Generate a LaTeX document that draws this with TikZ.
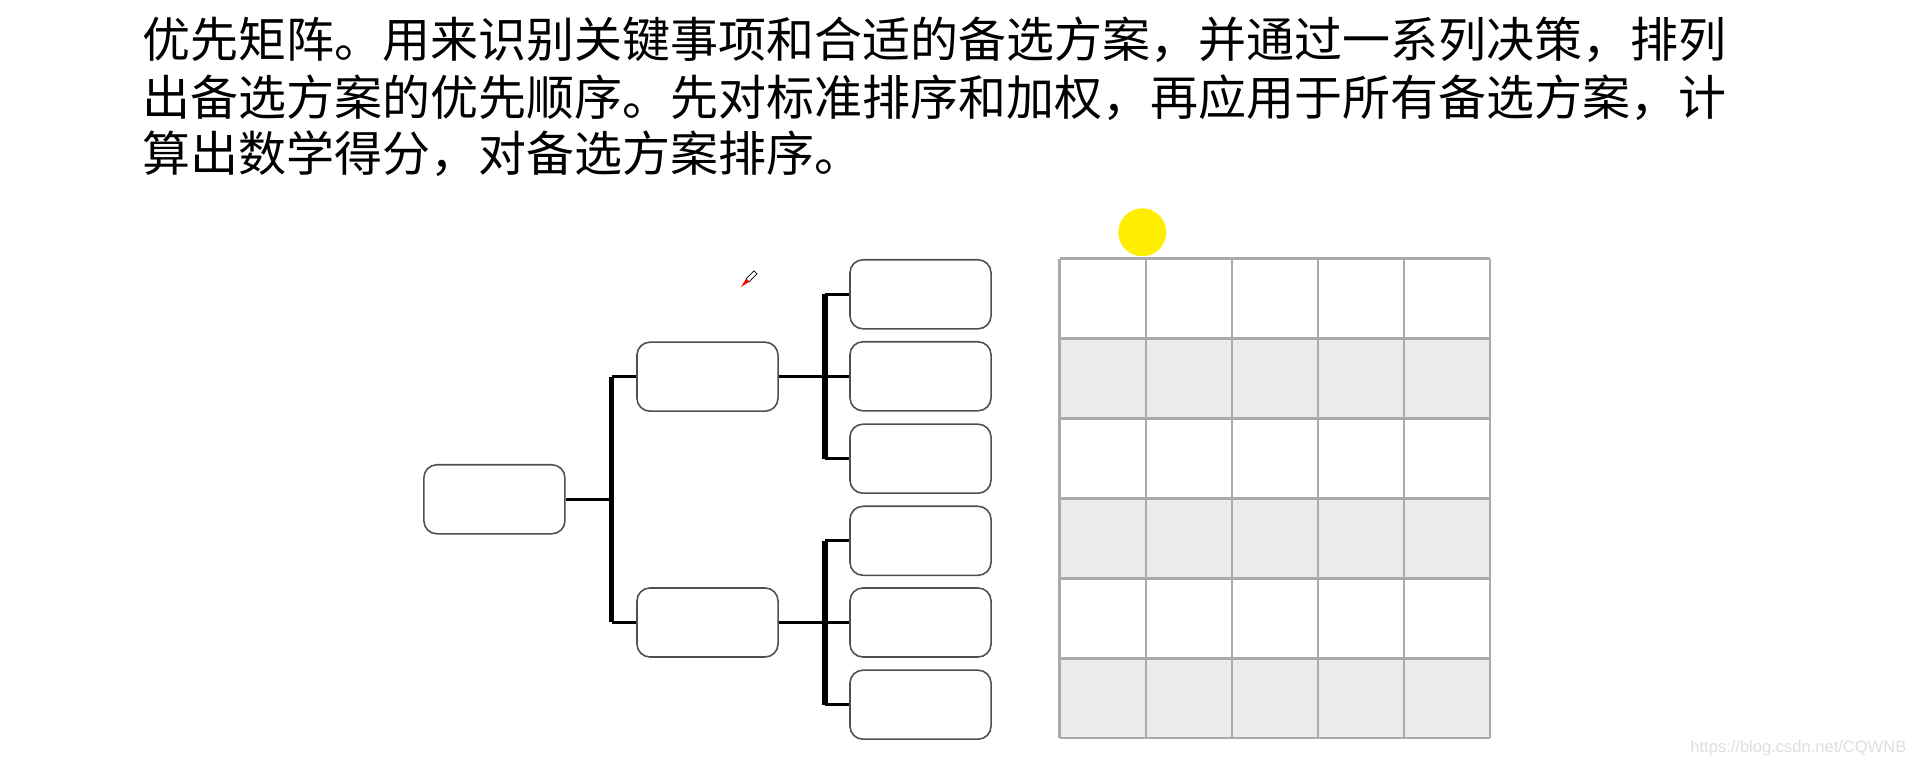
\documentclass[tikz,border=0pt]{standalone}
\usepackage{fontspec}
\newfontfamily\cjk{Noto Sans CJK SC}
\newfontfamily\wmfont{Liberation Sans}
\usetikzlibrary{calc}
\definecolor{boxline}{RGB}{80,80,80}
\definecolor{gridline}{RGB}{170,170,170}
\definecolor{cellgray}{RGB}{235,235,234}
\definecolor{hilite}{RGB}{255,238,0}
\tikzstyle{optbox}=[draw=boxline,line width=0.45pt,rounded corners=0.13cm,fill=white,minimum width=1.41cm,minimum height=0.69cm,inner sep=0pt]
\tikzstyle{bar} = [draw,line width=1.5pt]
\tikzstyle{stub} = [draw,line width=0.95pt]
\tikzstyle{gridrule} = [draw=gridline,line width=0.7pt]
\tikzstyle{textline} = [anchor=west,inner sep=0pt,font=\cjk\fontsize{13.65pt}{13.65pt}\selectfont]

\begin{document}
\begin{tikzpicture}[x=0.01cm,y=-0.01cm]
    \useasboundingbox (0,0) rectangle (1917,765);

    % description
    \node[textline] (line1) at (142,40) {优先矩阵。用来识别关键事项和合适的备选方案，并通过一系列决策，排列};
    \node[textline] (line2) at (142,97.5) {出备选方案的优先顺序。先对标准排序和加权，再应用于所有备选方案，计};
    \node[textline] (line3) at (142,154) {算出数学得分，对备选方案排序。};

    % tree of boxes
    \foreach \pos/ \name in {{(494.4,499.3)/root}, {(707.5,376.7)/mid1}, {(707.5,622.5)/mid2},
        {(920.5,294.3)/s1}, {(920.5,376.3)/s2}, {(920.5,458.7)/s3},
        {(920.5,540.8)/s4}, {(920.5,622.5)/s5}, {(920.5,704.7)/s6}}
        \node[optbox] (\name) at \pos {};

    \coordinate (jL) at (611.7,499.3);
    \coordinate (jR) at (825,499.3);

    \path[stub] (root.east) -- (root.east -| jL);
    \path[bar] (jL |- mid1) -- (jL |- mid2);
    \foreach \m in {mid1,mid2}
        \path[stub] (jL |- \m) -- (\m.west);

    \foreach \m/ \first/ \last in {mid1/s1/s3, mid2/s4/s6}
        \path[bar] (jR |- \first) -- (jR |- \last);
    \foreach \m in {mid1,mid2}
        \path[stub] (\m.east) -- (\m.east -| jR);
    \foreach \s in {s1,s2,s3,s4,s5,s6}
        \path[stub] (jR |- \s) -- (\s.west);

    % matrix of scores
    \foreach \r in {1,3,5}
        \fill[cellgray] (1059.7,258.7+\r*79.93) rectangle ++(430.3,79.93);
    \foreach \i in {0,...,5}
        \draw[gridrule] (1059.7+\i*86.06,258.7) -- (1059.7+\i*86.06,738.3);
    \foreach \j in {0,...,6}
        \draw[gridrule] (1059.7,258.7+\j*79.93) -- (1490,258.7+\j*79.93);

    \fill[hilite] (1142.3,232.3) circle (24);

    % pen cursor
    \draw[line width=0.2pt,fill=white] (746,279) -- (754,271) -- (757,274) -- (749,282) -- cycle;
    \fill[red] (741,287) -- (746,279) -- (749,282) -- cycle;

    \node[anchor=east,inner sep=0pt,text=black!13,font=\wmfont\fontsize{4.7pt}{5pt}\selectfont] (mark) at (1907,748) {https://blog.csdn.net/CQWNB};
\end{tikzpicture}
\end{document}
